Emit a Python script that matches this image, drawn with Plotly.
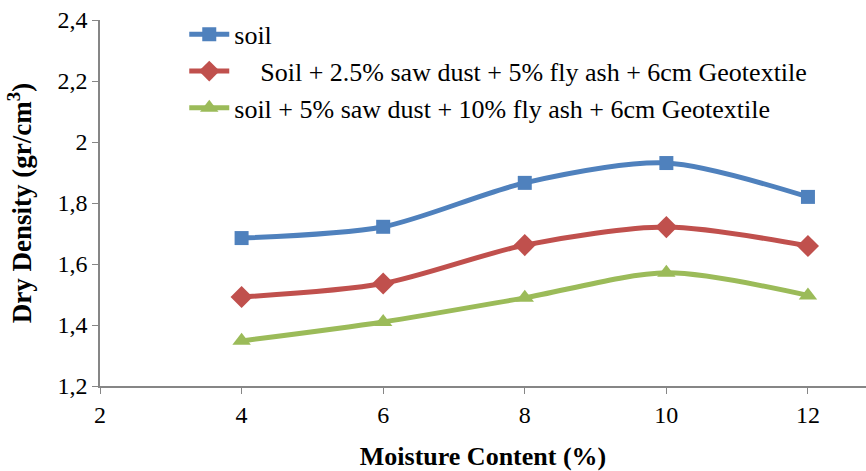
import plotly.graph_objects as go

# Moisture content (%) and dry density (gr/cm3) for each mix
moisture = [4, 6, 8, 10, 12]
soil = [1.685, 1.722, 1.866, 1.931, 1.820]
soil_sd25_fa5 = [1.492, 1.536, 1.662, 1.721, 1.659]
soil_sd5_fa10 = [1.348, 1.410, 1.489, 1.571, 1.497]

series_names = [
    "soil",
    "\u00a0\u00a0\u00a0\u00a0Soil + 2.5% saw dust + 5% fly ash + 6cm Geotextile",
    "soil + 5% saw dust + 10% fly ash + 6cm Geotextile",
]

y_tick_vals = [1.2, 1.4, 1.6, 1.8, 2.0, 2.2, 2.4]
y_tick_text = ["1,2", "1,4", "1,6", "1,8", "2", "2,2", "2,4"]
x_tick_vals = [2, 4, 6, 8, 10, 12]

FONT = "Liberation Serif"
AXIS_GREY = "#868686"

styles = [
    dict(color="#4F81BD", symbol="square", size=14),
    dict(color="#C0504D", symbol="diamond", size=17),
    dict(color="#9BBB59", symbol="triangle-up", size=16),
]

fig = go.Figure()
for name, values, st in zip(series_names, [soil, soil_sd25_fa5, soil_sd5_fa10], styles):
    fig.add_trace(go.Scatter(
        x=moisture, y=values, name=name, mode="lines+markers",
        line=dict(color=st["color"], width=5, shape="spline", smoothing=0.8),
        marker=dict(color=st["color"], symbol=st["symbol"], size=st["size"],
                    line=dict(width=0)),
    ))

fig.update_layout(
    width=866, height=471,
    margin=dict(l=100, r=0, t=20, b=85),
    paper_bgcolor="white", plot_bgcolor="white",
    font=dict(family=FONT, size=24, color="black"),
    showlegend=True,
    legend=dict(
        x=0.11, y=1.025, xanchor="left", yanchor="top",
        bgcolor="rgba(0,0,0,0)", font=dict(family=FONT, size=26),
        tracegroupgap=0, itemwidth=40,
    ),
    xaxis=dict(
        range=[2, 12.82], tickvals=x_tick_vals, showgrid=False, zeroline=False,
        showline=True, linecolor=AXIS_GREY, linewidth=1.5,
        ticks="outside", ticklen=6, tickcolor=AXIS_GREY,
        tickfont=dict(family=FONT, size=24),
        title=dict(text="<b>Moisture Content (%)</b>", font=dict(family=FONT, size=26),
                   standoff=21),
    ),
    yaxis=dict(
        range=[1.2, 2.4], tickvals=y_tick_vals, ticktext=y_tick_text,
        showgrid=False, zeroline=False,
        showline=True, linecolor=AXIS_GREY, linewidth=1.5,
        ticks="outside", ticklen=6, tickcolor=AXIS_GREY,
        tickfont=dict(family=FONT, size=24),
        title=dict(text="<b>Dry Density (gr/cm<sup>3</sup>)</b>",
                   font=dict(family=FONT, size=27), standoff=18),
    ),
)

fig.write_html("out.html")
